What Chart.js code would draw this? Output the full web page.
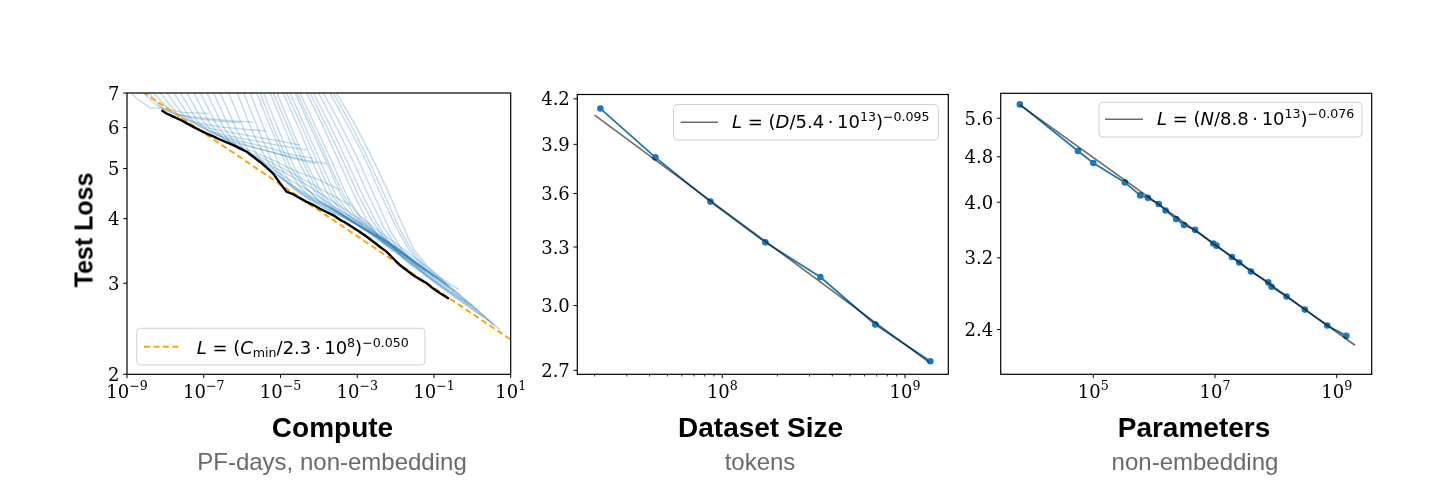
<!DOCTYPE html>
<html>
<head>
<meta charset="utf-8">
<script src="https://cdn.jsdelivr.net/npm/chart.js@4.4.1/dist/chart.umd.min.js"></script>
<style>
  html, body { margin:0; padding:0; background:#fff; }
  body { width:1456px; height:494px; position:relative; overflow:hidden; }
  canvas { position:absolute; left:0; top:0; }
  .t { position:absolute; font-family:"Liberation Sans", Arial, Helvetica, sans-serif; white-space:nowrap; line-height:1; transform:translateX(-50%); }
  .main { font-weight:bold; font-size:28px; color:#000; top:414.3px; }
  .sub { font-size:24px; color:#6a6a6a; top:449.7px; }
  .ylab { position:absolute; font-family:"Liberation Sans", Arial, sans-serif; font-weight:bold; font-size:25px; line-height:1; white-space:nowrap;
          left:84px; top:230px; transform:translate(-50%,-50%) rotate(-90deg); }
</style>
</head>
<body>
<canvas id="c1" width="1456" height="494"></canvas>
<canvas id="c2" width="1456" height="494"></canvas>
<canvas id="c3" width="1456" height="494"></canvas>

<div class="ylab">Test Loss</div>
<div class="t main" style="left:332.5px">Compute</div>
<div class="t sub" style="left:332px">PF-days, non-embedding</div>
<div class="t main" style="left:760.5px">Dataset Size</div>
<div class="t sub" style="left:760px">tokens</div>
<div class="t main" style="left:1194px">Parameters</div>
<div class="t sub" style="left:1195px">non-embedding</div>

<script>
// ---------------- DATA ----------------
// Panel 1: learning curves, each point = [log10(compute in PF-days), test loss]
const lossCurves = [
 [[-9.01,7.17],[-8.75,6.83],[-8.40,6.56],[-8.05,6.52],[-7.53,6.42],[-6.87,6.39]],
 [[-8.75,7.41],[-8.57,7.00],[-8.23,6.63],[-7.88,6.43],[-7.45,6.31],[-6.92,6.25],[-6.23,6.18],[-5.71,6.15]],
 [[-8.62,7.41],[-8.44,7.00],[-8.10,6.56],[-7.75,6.37],[-7.27,6.26],[-6.66,6.18],[-6.06,6.14]],
 [[-8.48,7.41],[-8.31,7.00],[-7.88,6.48],[-7.53,6.25],[-7.10,6.11],[-6.58,6.02],[-5.88,5.95],[-5.36,5.91]],
 [[-8.31,7.41],[-8.13,7.00],[-7.71,6.40],[-7.36,6.16],[-6.92,6.00],[-6.36,5.88],[-5.71,5.77],[-5.10,5.67],[-4.49,5.55]],
 [[-8.13,7.41],[-7.96,7.00],[-7.53,6.34],[-7.18,6.07],[-6.75,5.88],[-6.14,5.74],[-5.53,5.63],[-4.84,5.51],[-4.32,5.43]],
 [[-7.96,7.41],[-7.78,7.00],[-7.36,6.27],[-7.01,5.97],[-6.58,5.80],[-6.01,5.64],[-5.40,5.51],[-4.75,5.33],[-4.14,5.23]],
 [[-7.78,7.41],[-7.61,7.00],[-7.18,6.20],[-6.84,5.88],[-6.40,5.71],[-5.88,5.55],[-5.27,5.39],[-4.67,5.23],[-4.06,5.11]],
 [[-7.61,7.41],[-7.44,7.00],[-7.01,6.16],[-6.66,5.80],[-6.23,5.62],[-5.62,5.47],[-5.01,5.33],[-4.40,5.20],[-3.80,5.11]],
 [[-7.44,7.41],[-7.26,7.00],[-6.84,6.11],[-6.49,5.71],[-6.14,5.55],[-5.71,5.39],[-5.19,5.19],[-4.58,4.93],[-3.97,4.75],[-3.45,4.54]],
 [[-7.26,7.41],[-7.09,7.00],[-6.66,6.07],[-6.32,5.63],[-5.97,5.43],[-5.53,5.26],[-5.01,5.04],[-4.40,4.76],[-3.80,4.50],[-3.19,4.25]],
 [[-7.09,7.41],[-6.92,7.00],[-6.49,6.02],[-6.14,5.55],[-5.79,5.35],[-5.36,5.11],[-4.84,4.89],[-4.23,4.61],[-3.62,4.31],[-3.01,4.03],[-2.58,3.80]],
 [[-6.92,7.41],[-6.74,7.00],[-6.32,5.97],[-5.97,5.45],[-5.62,5.21],[-5.19,4.98],[-4.67,4.71],[-4.06,4.44],[-3.45,4.15],[-2.84,3.89]],
 [[-6.74,7.41],[-6.57,7.00],[-6.14,5.93],[-5.79,5.35],[-5.45,5.08],[-5.01,4.82],[-4.49,4.54],[-3.88,4.28],[-3.28,4.03],[-2.67,3.75],[-2.23,3.53]],
 [[-6.52,7.41],[-6.35,7.00],[-5.92,5.88],[-5.58,5.27],[-5.23,4.93],[-4.84,4.71],[-4.32,4.44],[-3.71,4.20],[-3.10,3.95],[-2.49,3.69],[-2.06,3.45]],
 [[-6.31,7.41],[-6.13,7.00],[-5.71,5.84],[-5.36,5.19],[-5.01,4.82],[-4.67,4.58],[-4.14,4.34],[-3.54,4.12],[-2.93,3.86],[-2.41,3.64],[-1.80,3.38]],
 [[-6.13,7.41],[-5.96,7.00],[-5.53,5.83],[-5.19,5.10],[-4.84,4.71],[-4.49,4.47],[-3.97,4.23],[-3.36,4.02],[-2.75,3.79],[-2.19,3.55],[-1.71,3.33]],
 [[-5.96,7.41],[-5.79,7.00],[-5.36,5.80],[-5.01,5.04],[-4.67,4.61],[-4.32,4.41],[-3.80,4.18],[-3.19,3.97],[-2.58,3.72],[-2.06,3.48],[-1.54,3.25]],
 [[-5.79,7.41],[-5.62,7.00],[-5.19,5.83],[-4.84,5.05],[-4.49,4.60],[-4.14,4.35],[-3.62,4.14],[-3.01,3.91],[-2.41,3.67],[-1.80,3.40],[-1.36,3.21]],
 [[-5.71,7.41],[-5.53,7.00],[-5.12,5.84],[-4.75,5.05],[-4.40,4.62],[-4.04,4.37],[-3.58,4.15],[-2.97,3.92],[-2.36,3.64],[-1.75,3.39],[-1.23,3.17]],
 [[-5.61,7.41],[-5.44,7.00],[-5.01,5.84],[-4.67,5.08],[-4.32,4.58],[-3.97,4.31],[-3.54,4.12],[-2.93,3.86],[-2.32,3.64],[-1.71,3.35],[-1.19,3.14]],
 [[-5.45,7.41],[-5.27,7.00],[-4.84,5.86],[-4.49,5.10],[-4.14,4.55],[-3.80,4.27],[-3.36,4.06],[-2.75,3.80],[-2.15,3.57],[-1.54,3.30],[-1.02,3.09]],
 [[-5.36,7.41],[-5.19,7.00],[-4.75,5.88],[-4.39,5.10],[-4.04,4.53],[-3.69,4.23],[-3.28,4.02],[-2.67,3.77],[-2.06,3.53],[-1.45,3.28],[-0.89,3.06]],
 [[-5.26,7.41],[-5.09,7.00],[-4.67,5.88],[-4.32,5.11],[-3.97,4.54],[-3.62,4.22],[-3.19,3.97],[-2.58,3.75],[-1.97,3.50],[-1.36,3.25],[-0.76,3.02]],
 [[-5.10,7.41],[-4.93,7.00],[-4.49,5.91],[-4.10,5.02],[-3.75,4.44],[-3.41,4.14],[-2.97,3.93],[-2.41,3.69],[-1.84,3.45],[-1.23,3.19],[-0.67,2.99]],
 [[-5.01,7.41],[-4.84,7.00],[-4.40,5.93],[-3.98,5.02],[-3.64,4.42],[-3.29,4.10],[-2.86,3.89],[-2.32,3.67],[-1.75,3.43],[-1.15,3.16],[-0.62,2.97]],
 [[-4.93,7.41],[-4.75,7.00],[-4.32,5.93],[-3.88,5.00],[-3.54,4.41],[-3.19,4.09],[-2.75,3.86],[-2.23,3.64],[-1.71,3.40],[-1.10,3.14],[-0.58,2.95]],
 [[-4.80,7.41],[-4.62,7.00],[-4.19,5.95],[-3.75,5.04],[-3.41,4.42],[-3.06,4.06],[-2.62,3.79],[-2.15,3.58],[-1.62,3.35],[-1.02,3.09],[-0.45,2.90]],
 [[-4.74,7.41],[-4.57,7.00],[-4.13,5.95],[-3.69,5.02],[-3.34,4.42],[-3.00,4.09],[-2.54,3.83],[-2.06,3.61],[-1.52,3.37],[-0.91,3.10],[-0.36,2.92]],
 [[-4.67,7.41],[-4.49,7.00],[-4.06,5.97],[-3.62,5.08],[-3.28,4.44],[-2.93,4.03],[-2.49,3.75],[-2.06,3.53],[-1.54,3.30],[-0.93,3.04],[-0.32,2.85]],
 [[-4.49,7.41],[-4.32,7.00],[-3.88,6.02],[-3.45,5.11],[-3.10,4.47],[-2.75,3.97],[-2.41,3.67],[-1.97,3.43],[-1.45,3.21],[-0.76,2.95],[-0.15,2.76]],
 [[-4.40,7.41],[-4.23,7.00],[-3.80,6.04],[-3.36,5.15],[-2.97,4.44],[-2.62,3.97],[-2.28,3.65],[-1.84,3.39],[-1.32,3.17],[-0.62,2.91],[-0.02,2.71]],
 [[-4.32,7.41],[-4.14,7.00],[-3.71,6.07],[-3.28,5.19],[-2.84,4.41],[-2.49,3.92],[-2.15,3.58],[-1.71,3.30],[-1.19,3.09],[-0.49,2.85],[0.11,2.66]],
 [[-4.19,7.41],[-4.01,7.00],[-3.58,6.09],[-3.14,5.23],[-2.71,4.44],[-2.32,3.86],[-1.97,3.53],[-1.54,3.25],[-1.02,3.04],[-0.32,2.78],[0.29,2.58]],
 [[-4.06,7.41],[-3.88,7.00],[-3.45,6.11],[-3.01,5.27],[-2.58,4.47],[-2.15,3.80],[-1.80,3.45],[-1.36,3.18],[-0.84,2.95],[-0.15,2.72],[0.46,2.53]],
 [[-3.88,7.41],[-3.71,7.00],[-3.28,6.13],[-2.84,5.31],[-2.41,4.50],[-1.97,3.83],[-1.67,3.50],[-1.28,3.23],[-0.76,2.99],[-0.06,2.73],[0.55,2.49]],
 [[-3.80,7.41],[-3.62,7.00],[-3.19,6.13],[-2.75,5.28],[-2.32,4.50],[-1.90,3.83],[-1.61,3.50],[-1.23,3.24],[-0.71,2.99],[-0.02,2.73],[0.59,2.48]],
 [[-3.71,7.41],[-3.54,7.00],[-3.10,6.16],[-2.67,5.35],[-2.23,4.58],[-1.80,3.86],[-1.54,3.50],[-1.19,3.25],[-0.67,3.00],[0.03,2.70],[0.72,2.44]]
];
// Panel 1: compute-efficient frontier, [log10(compute), loss]
const computeFrontier = [
 [-8.10,6.48],[-7.97,6.39],[-7.79,6.30],[-7.62,6.22],[-7.45,6.12],[-7.27,6.02],[-7.10,5.93],[-6.92,5.84],
 [-6.75,5.77],[-6.58,5.69],[-6.40,5.62],[-6.23,5.55],[-6.06,5.47],[-5.88,5.39],[-5.71,5.27],[-5.53,5.15],
 [-5.36,5.02],[-5.19,4.89],[-5.01,4.68],[-4.84,4.51],[-4.67,4.46],[-4.49,4.38],[-4.32,4.31],[-4.14,4.25],
 [-3.97,4.18],[-3.80,4.12],[-3.62,4.06],[-3.45,3.98],[-3.28,3.92],[-3.10,3.84],[-2.93,3.77],[-2.75,3.69],
 [-2.58,3.61],[-2.41,3.53],[-2.23,3.45],[-2.06,3.35],[-1.88,3.25],[-1.71,3.18],[-1.54,3.11],[-1.36,3.05],
 [-1.19,3.00],[-1.02,2.93],[-0.84,2.87],[-0.61,2.80]
];
// Panel 1: power-law fit endpoints  L = (Cmin/2.3e8)^-0.050
const computeFitC = [1e-9, 1e1];
const computeFitL = [7.38, 2.334];

// Panel 2: dataset size
const datasetTokens = [2.15e7, 4.3e7, 8.6e7, 1.72e8, 3.44e8, 6.88e8, 1.376e9];
const datasetLoss   = [4.134, 3.818, 3.553, 3.325, 3.143, 2.909, 2.740];
const datasetFitD = [2.0e7, 1.35e9];
const datasetFitL = [4.09, 2.736];

// Panel 3: parameters
const paramCount = [6.2e3, 5.6e4, 1.0e5, 3.3e5, 5.9e5, 7.9e5, 1.19e6, 1.54e6, 2.3e6, 3.1e6, 4.7e6,
                    9.4e6, 1.06e7, 1.9e7, 2.5e7, 3.9e7, 7.5e7, 8.5e7, 1.5e8, 3.0e8, 7.0e8, 1.44e9];
const paramLoss  = [5.92, 4.91, 4.68, 4.33, 4.11, 4.07, 3.97, 3.87, 3.74, 3.65, 3.58,
                    3.39, 3.36, 3.21, 3.14, 3.03, 2.90, 2.85, 2.74, 2.60, 2.44, 2.34];
const paramFitN = [6.2e3, 2.0e9];
const paramFitL = [5.91, 2.254];

// Ticks
const computeTicks = [1e-9, 1e-7, 1e-5, 1e-3, 1e-1, 1e1];
const computeTickExp = ['\u22129', '\u22127', '\u22125', '\u22123', '\u22121', '1'];
const lossTicks1 = [2, 3, 4, 5, 6, 7];
const lossTickLabels1 = ['2', '3', '4', '5', '6', '7'];
const tokenTicks = [1e8, 1e9];
const tokenTickExp = ['8', '9'];
const tokenMinorTicks = [2e7,3e7,4e7,5e7,6e7,7e7,8e7,9e7,2e8,3e8,4e8,5e8,6e8,7e8,8e8,9e8];
const lossTicks2 = [2.7, 3.0, 3.3, 3.6, 3.9, 4.2];
const lossTickLabels2 = ['2.7', '3.0', '3.3', '3.6', '3.9', '4.2'];
const paramTicks = [1e5, 1e7, 1e9];
const paramTickExp = ['5', '7', '9'];
const lossTicks3 = [2.4, 3.2, 4.0, 4.8, 5.6];
const lossTickLabels3 = ['2.4', '3.2', '4.0', '4.8', '5.6'];

// ---------------- DRAWING ----------------
const BLUE = '#1f77b4';
const FITC = 'rgba(0,0,0,0.58)';
const SERIF = '"DejaVu Serif", serif';
const SANS = '"DejaVu Sans", sans-serif';

function drawParts(ctx, x, y, parts, size, family) {
  for (const p of parts) {
    const fs = p.s ? size * 0.7 : size;
    ctx.font = (p.i ? 'italic ' : '') + fs + 'px ' + family;
    const dy = p.s === 'sup' ? -0.41 * size : (p.s === 'sub' ? 0.17 * size : 0);
    ctx.fillText(p.t, x, y + dy);
    x += ctx.measureText(p.t).width;
  }
  return x;
}
function partsWidth(ctx, parts, size, family) {
  let w = 0;
  for (const p of parts) {
    const fs = p.s ? size * 0.7 : size;
    ctx.font = (p.i ? 'italic ' : '') + fs + 'px ' + family;
    w += ctx.measureText(p.t).width;
  }
  return w;
}

function makeDecor(cfg) {
  return {
    id: 'decor',
    afterDraw(chart) {
      const ctx = chart.ctx, a = chart.chartArea, xs = chart.scales.x, ys = chart.scales.y;
      ctx.save();
      ctx.fillStyle = '#000';
      ctx.strokeStyle = '#000';
      ctx.textBaseline = 'alphabetic';
      ctx.lineWidth = 0.8;
      (cfg.xMinor || []).forEach(v => {
        const px = xs.getPixelForValue(v);
        ctx.beginPath(); ctx.moveTo(px, a.bottom); ctx.lineTo(px, a.bottom + 2.2); ctx.stroke();
      });
      ctx.lineWidth = 1;
      cfg.xTicks.forEach((v, i) => {
        const px = xs.getPixelForValue(v);
        ctx.beginPath(); ctx.moveTo(px, a.bottom); ctx.lineTo(px, a.bottom + 3.8); ctx.stroke();
        const parts = [{t: '10'}, {t: cfg.xExp[i], s: 'sup'}];
        const w = partsWidth(ctx, parts, 18, SERIF);
        ctx.textAlign = 'left';
        drawParts(ctx, px - w / 2, 397.5, parts, 18, SERIF);
      });
      cfg.yTicks.forEach((v, i) => {
        const py = ys.getPixelForValue(v);
        ctx.beginPath(); ctx.moveTo(a.left, py); ctx.lineTo(a.left - 3.8, py); ctx.stroke();
        ctx.font = '18px ' + SERIF;
        ctx.textAlign = 'right';
        ctx.fillText(cfg.yLabels[i], a.left - 7.5, py + 6.5);
      });
      ctx.lineWidth = 1.2;
      ctx.strokeRect(a.left, a.top, a.right - a.left, a.bottom - a.top);
      const L = cfg.legend;
      ctx.beginPath();
      ctx.roundRect(L.box[0], L.box[1], L.box[2] - L.box[0], L.box[3] - L.box[1], 4);
      ctx.fillStyle = 'rgba(255,255,255,0.8)';
      ctx.fill();
      ctx.strokeStyle = 'rgba(204,204,204,0.9)';
      ctx.lineWidth = 1;
      ctx.stroke();
      ctx.beginPath();
      ctx.strokeStyle = L.color;
      ctx.lineWidth = L.width;
      ctx.setLineDash(L.dash || []);
      ctx.moveTo(L.line[0], L.line[2]); ctx.lineTo(L.line[1], L.line[2]); ctx.stroke();
      ctx.setLineDash([]);
      ctx.fillStyle = '#000';
      ctx.textAlign = 'left';
      drawParts(ctx, L.tx, L.ty, L.parts, 18, SANS);
      ctx.restore();
    }
  };
}

function pts(xs, ys) { return xs.map((x, i) => ({x: x, y: ys[i]})); }
function logPts(arr) { return arr.map(p => ({x: Math.pow(10, p[0]), y: p[1]})); }

function baseOptions(pad, xr, yr) {
  return {
    responsive: false, animation: false, events: [],
    layout: { padding: pad },
    scales: {
      x: { type: 'logarithmic', min: xr[0], max: xr[1], display: false },
      y: { type: 'logarithmic', min: yr[0], max: yr[1], display: false }
    },
    plugins: { legend: { display: false }, tooltip: { enabled: false } },
    elements: { line: { tension: 0 } }
  };
}

// ----- Chart 1: Compute -----
const ds1 = lossCurves.map(c => ({
  data: logPts(c), showLine: true, borderColor: 'rgba(31,119,180,0.27)', borderWidth: 1.4,
  pointRadius: 0, order: 2
}));
ds1.push({ data: pts(computeFitC, computeFitL), showLine: true, borderColor: '#ffa500', borderWidth: 2,
  borderDash: [6, 3.5], pointRadius: 0, order: 1 });
ds1.push({ data: logPts(computeFrontier), showLine: true, borderColor: '#000', borderWidth: 2.4,
  pointRadius: 0, order: 0 });

new Chart(document.getElementById('c1'), {
  type: 'scatter',
  data: { datasets: ds1 },
  options: baseOptions({left: 127, top: 93, right: 1456 - 510.7, bottom: 494 - 374.3}, [1e-9, 1e1], [2, 7]),
  plugins: [makeDecor({
    xTicks: computeTicks, xExp: computeTickExp, yTicks: lossTicks1, yLabels: lossTickLabels1,
    legend: { box: [136.7, 328.3, 425, 365], line: [144, 182, 346.7], color: '#ffa500', width: 2, dash: [6, 3.5],
      tx: 196.7, ty: 354.3,
      parts: [{t:'L', i:1}, {t:' = ('}, {t:'C', i:1}, {t:'min', s:'sub'}, {t:'/2.3\u2009\u00b7\u200910'}, {t:'8', s:'sup'}, {t:')'}, {t:'\u22120.050', s:'sup'}] }
  })]
});

// ----- Chart 2: Dataset Size -----
new Chart(document.getElementById('c2'), {
  type: 'scatter',
  data: { datasets: [
    { data: pts(datasetFitD, datasetFitL), showLine: true, borderColor: FITC, borderWidth: 1.6, pointRadius: 0, order: 0 },
    { data: pts(datasetTokens, datasetLoss), showLine: true, borderColor: BLUE, backgroundColor: BLUE,
      borderWidth: 1.8, pointRadius: 3.3, pointBorderWidth: 0, order: 1 }
  ]},
  options: baseOptions({left: 577.3, top: 94.5, right: 1456 - 948.3, bottom: 494 - 374.3},
                       [1.607e7, 1.726e9], [2.6825, 4.2296]),
  plugins: [makeDecor({
    xTicks: tokenTicks, xExp: tokenTickExp, xMinor: tokenMinorTicks, yTicks: lossTicks2, yLabels: lossTickLabels2,
    legend: { box: [673.5, 104.5, 938.3, 140], line: [680.7, 718, 122.3], color: FITC, width: 1.6,
      tx: 732, ty: 128,
      parts: [{t:'L', i:1}, {t:' = ('}, {t:'D', i:1}, {t:'/5.4\u2009\u00b7\u200910'}, {t:'13', s:'sup'}, {t:')'}, {t:'\u22120.095', s:'sup'}] }
  })]
});

// ----- Chart 3: Parameters -----
new Chart(document.getElementById('c3'), {
  type: 'scatter',
  data: { datasets: [
    { data: pts(paramFitN, paramFitL), showLine: true, borderColor: FITC, borderWidth: 1.6, pointRadius: 0, order: 0 },
    { data: pts(paramCount, paramLoss), showLine: true, borderColor: BLUE, backgroundColor: BLUE,
      borderWidth: 1.8, pointRadius: 3.3, pointBorderWidth: 0, order: 1 }
  ]},
  options: baseOptions({left: 1000.7, top: 93.3, right: 1456 - 1371.7, bottom: 494 - 374.3},
                       [3006, 3.76e9], [2.006, 6.19]),
  plugins: [makeDecor({
    xTicks: paramTicks, xExp: paramTickExp, yTicks: lossTicks3, yLabels: lossTickLabels3,
    legend: { box: [1099, 102.3, 1362, 137], line: [1105, 1143, 119.3], color: FITC, width: 1.6,
      tx: 1157, ty: 125,
      parts: [{t:'L', i:1}, {t:' = ('}, {t:'N', i:1}, {t:'/8.8\u2009\u00b7\u200910'}, {t:'13', s:'sup'}, {t:')'}, {t:'\u22120.076', s:'sup'}] }
  })]
});
</script>
</body>
</html>
